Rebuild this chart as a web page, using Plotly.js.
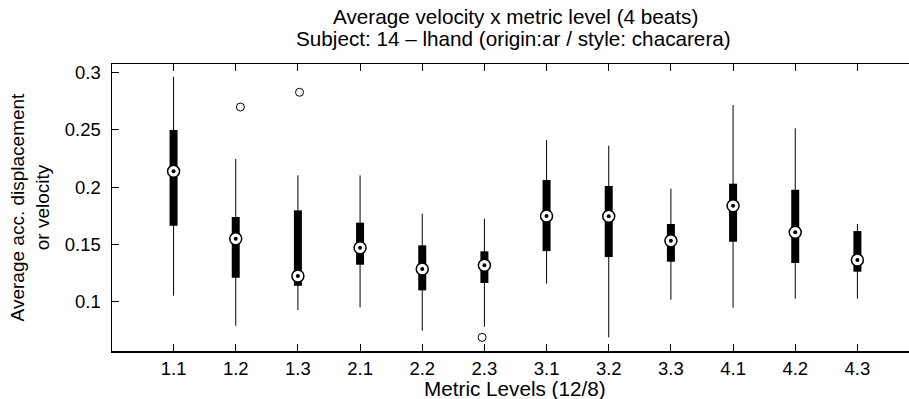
<!DOCTYPE html>
<html>
<head>
<meta charset="utf-8">
<script src="https://cdn.plot.ly/plotly-3.0.1.min.js"></script>
<style>
html,body{margin:0;padding:0;overflow:hidden;background:#fff;}
#chart{width:909px;height:399px;}
</style>
</head>
<body>
<div id="chart"></div>
<script>
const categories = ['1.1','1.2','1.3','2.1','2.2','2.3','3.1','3.2','3.3','4.1','4.2','4.3'];
const whiskerLow  = [0.1051,0.0789,0.0926,0.0949,0.0745,0.0780,0.1156,0.0687,0.1016,0.0946,0.1025,0.1025];
const q1          = [0.1663,0.1208,0.1138,0.1322,0.1098,0.1162,0.1441,0.1389,0.1348,0.1523,0.1337,0.1261];
const medians     = [0.2138,0.1549,0.1223,0.1470,0.1284,0.1317,0.1747,0.1745,0.1532,0.1837,0.1605,0.1363];
const q3          = [0.2499,0.1739,0.1797,0.1689,0.1491,0.1439,0.2062,0.2010,0.1678,0.2030,0.1977,0.1616];
const whiskerHigh = [0.2965,0.2246,0.2103,0.2103,0.1768,0.1724,0.2412,0.2362,0.1986,0.2718,0.2514,0.1678];
const outlierPos  = [2.075, 3.026, 5.963];
const outlierVal  = [0.2700, 0.2829, 0.0687];
const yTickVals   = [0.1, 0.15, 0.2, 0.25, 0.3];
const yTickText   = ['0.1','0.15','0.2','0.25','0.3'];
const titleLine1  = 'Average velocity x metric level (4 beats)';
const titleLine2  = 'Subject: 14 – lhand (origin:ar / style: chacarera)';
const xTitle      = 'Metric Levels (12/8)';
const yTitle      = 'Average acc. displacement<br>or velocity';

const pos = categories.map((c,i)=>i+1);
function segs(lo, hi){
  const x=[], y=[];
  pos.forEach((p,i)=>{ x.push(p,p,null); y.push(lo[i],hi[i],null); });
  return {x,y};
}
const w = segs(whiskerLow, whiskerHigh);
const b = segs(q1, q3);
const font = 'Liberation Sans, Arial, Helvetica, sans-serif';

const traces = [
  {type:'scatter', mode:'lines', x:w.x, y:w.y, line:{color:'#000', width:1}, hoverinfo:'skip'},
  {type:'scatter', mode:'lines', x:b.x, y:b.y, line:{color:'#000', width:8}, hoverinfo:'skip'},
  {type:'scatter', mode:'markers', x:pos, y:medians, marker:{symbol:'circle', size:12, color:'#fff', line:{color:'#000', width:1.5}}},
  {type:'scatter', mode:'markers', x:pos, y:medians, marker:{symbol:'circle', size:4, color:'#000', line:{width:0}}},
  {type:'scatter', mode:'markers', x:outlierPos, y:outlierVal, marker:{symbol:'circle-open', size:8, color:'#000', line:{color:'#000', width:1}}}
];

const layout = {
  width:909, height:399,
  margin:{l:112, r:0, t:64, b:48},
  paper_bgcolor:'#fff', plot_bgcolor:'#fff',
  showlegend:false,
  font:{family:font, color:'#000', size:18.5},
  title:{text:titleLine1, font:{family:font, size:20.7, color:'#000'},
         x:0.5673, xanchor:'center', xref:'container', y:1-17/399, yanchor:'middle', yref:'container'},
  annotations:[
    {text:titleLine2, xref:'paper', yref:'paper', x:0.5035, y:1+25/286.7,
     xanchor:'center', yanchor:'middle', showarrow:false, font:{family:font, size:20.7, color:'#000'}},
    {text:xTitle, xref:'paper', yref:'paper', x:0.506, y:-(388-350.7)/286.7,
     xanchor:'center', yanchor:'middle', showarrow:false, font:{family:font, size:20.7, color:'#000'}}
  ],
  xaxis:{range:[0.0096,12.83], tickmode:'array', tickvals:pos, ticktext:categories,
         ticks:'inside', ticklen:7, tickwidth:1, tickcolor:'#000',
         showline:true, linecolor:'#000', linewidth:1.5, mirror:'ticks',
         showgrid:false, zeroline:false, tickfont:{size:18.5}},
  yaxis:{range:[0.0568,0.3076], tickmode:'array', tickvals:yTickVals, ticktext:yTickText,
         ticks:'inside', ticklen:7, tickwidth:1, tickcolor:'#000', ticklabelstandoff:6,
         showline:true, linecolor:'#000', linewidth:1.5, mirror:false,
         showgrid:false, zeroline:false, tickfont:{size:18.5},
         title:{text:yTitle, font:{size:19}, standoff:10}}
};
Plotly.newPlot('chart', traces, layout, {staticPlot:true, displayModeBar:false});
</script>
</body>
</html>
